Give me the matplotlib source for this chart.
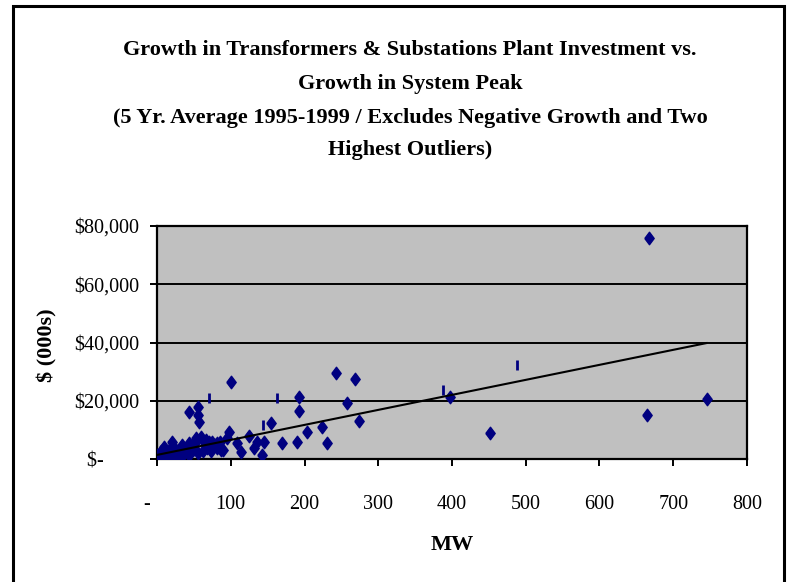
import matplotlib
matplotlib.use('Agg')
import matplotlib.pyplot as plt
from matplotlib.patches import Rectangle
from matplotlib.ticker import FuncFormatter

plt.rcParams['font.family'] = ['Liberation Serif', 'DejaVu Serif']

# growth in system peak (MW) vs growth in plant investment ($000s)
mw = [0, 3, 7, 9, 14, 20, 23, 26, 33, 34, 43, 53, 60, 66, 75,
      1, 4, 6, 8, 11, 12, 15, 17, 18, 22, 25, 28, 30, 36, 38, 40, 44, 46, 48,
      50, 52, 55, 62, 65, 68, 70, 73, 78, 82, 86, 90,
      43, 56, 56, 57, 98, 95, 108, 125, 136, 155, 145, 142, 132, 114, 87, 81,
      170, 100, 193, 193, 258, 204, 224, 231, 190, 243, 269, 274, 397, 452,
      667, 665, 746]
invest = [1400, 300, 2100, 4100, 700, 5800, 200, 3100, 700, 4800, 5500, 7200, 7500, 6500, 5800,
          600, 1200, 2800, 1800, 900, 2500, 300, 1500, 3500, 1100, 1600, 2400, 700, 1900, 2900, 3600, 1400, 2600, 4200,
          3400, 5600, 2200, 2800, 5600, 3900, 6000, 2700, 4900, 3800, 5800, 3000,
          16100, 17900, 15100, 12700, 9300, 7200, 5500, 7900, 5800, 12400, 5800, 1400, 3800, 2400, 3100, 5500,
          5500, 26400, 21300, 16500, 19200, 9300, 11000, 5500, 5800, 29500, 27500, 13000, 21300, 8900,
          76000, 15100, 20600]

# second series drawn as dash markers
dash_mw = [70, 163, 144, 388, 488]
dash_invest = [21000, 21000, 11700, 23700, 32300]

# linear trend line end points
trend_mw = [0, 745]
trend_invest = [1400, 39800]

title_lines = ['Growth in Transformers & Substations Plant Investment vs.',
               'Growth in System Peak',
               '(5 Yr. Average 1995-1999 / Excludes Negative Growth and Two',
               'Highest Outliers)']

fig = plt.figure(figsize=(7.88, 5.82), dpi=100)
ax = fig.add_axes([157/788, 1-459/582, 590/788, 233/582])
ax.set_facecolor('#c0c0c0')

diamond = [(-0.75, 0), (0, 1), (0.75, 0), (0, -1), (-0.75, 0)]
ax.plot(mw, invest, linestyle='none', marker=diamond, ms=9, color='#000080', zorder=3)
ax.plot(dash_mw, dash_invest, linestyle='none', marker='|', ms=7, mew=2, color='#000080', zorder=3)
ax.plot(trend_mw, trend_invest, color='black', lw=1.5, zorder=4)

ax.set_xlim(0, 800)
ax.set_ylim(0, 80000)
ax.set_xticks(range(0, 801, 100))
ax.set_yticks(range(0, 80001, 20000))

def xfmt(v, pos):
    if v == 0:
        return '-    '
    return '%d' % v

def yfmt(v, pos):
    if v == 0:
        return '$-       '
    return '${:,.0f}'.format(v)

ax.xaxis.set_major_formatter(FuncFormatter(xfmt))
ax.yaxis.set_major_formatter(FuncFormatter(yfmt))
ax.yaxis.grid(True, color='black', lw=1.4)
ax.set_axisbelow(True)
for s in ax.spines.values():
    s.set_linewidth(1.6)
ax.tick_params(direction='out', length=5, width=1.4, labelsize=14.5)
ax.tick_params(axis='x', pad=21)
ax.tick_params(axis='y', pad=8)

ys = [50, 84, 118, 150]
for txt, yy in zip(title_lines, ys):
    fig.text(410/788, 1-yy/582, txt, ha='center', va='center', fontsize=16, fontweight='bold')

fig.text(47/788, 1-345/582, '$ (000s)', rotation=90, ha='center', va='center', fontsize=16, fontweight='bold')
fig.text(452/788, 1-545/582, 'MW', ha='center', va='center', fontsize=16, fontweight='bold')

fig.patches.append(Rectangle((13/788, -0.05), (784-13)/788, 1.05-6/582, fill=False,
                             lw=2.2, edgecolor='black', transform=fig.transFigure, figure=fig))

fig.savefig('out.png', dpi=100)
